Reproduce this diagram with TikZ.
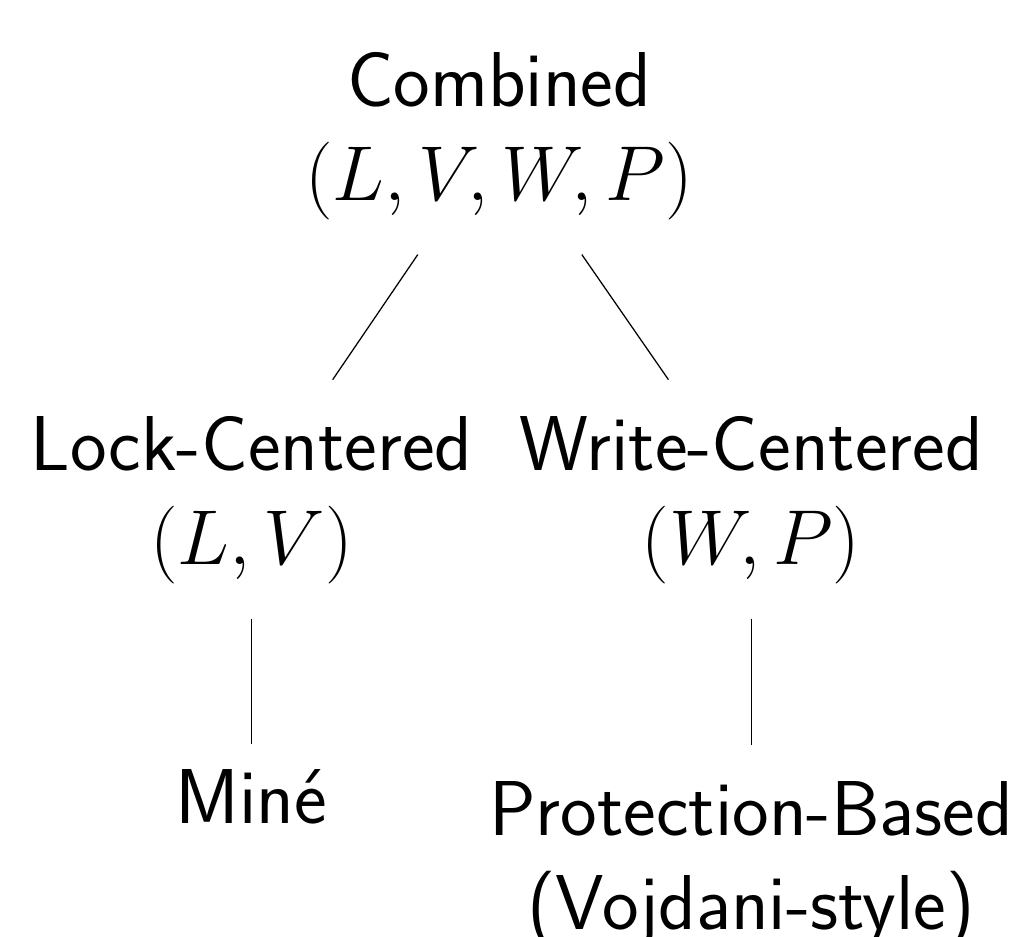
\documentclass[tikz,border=0pt]{standalone}
\tikzset{
  treebox/.style={inner sep=8pt, anchor=base, font=\Huge\sffamily},
  treeedge/.style={draw=black, line width=0.4pt}
}
\newcommand{\twolines}[2]{{\setlength{\tabcolsep}{0pt}\begin{tabular}[t]{c}#1\\#2\end{tabular}}}
\newcommand{\oneline}[1]{{\setlength{\tabcolsep}{0pt}\begin{tabular}[t]{c}#1\end{tabular}}}
\begin{document}
\begin{tikzpicture}
\useasboundingbox (0,0) rectangle (323.3pt,-299.6pt);
\node[treebox] (root) at (159.6pt,-34.2pt) {\twolines{Combined}{$(L,V,W,P)$}};
\node[treebox] (lc) at (80.4pt,-150.6pt) {\twolines{Lock-Centered}{$(L,V)$}};
\node[treebox] (wc) at (240.2pt,-150.6pt) {\twolines{Write-Centered}{$(W,P)$}};
\node[treebox, inner ysep=4pt] (mine) at (80.4pt,-263.2pt) {\oneline{Miné}};
\node[treebox] (prot) at (240.2pt,-267.3pt) {\twolines{Protection-Based}{(Vojdani-style)}};
\draw[treeedge] (root) -- (lc);
\draw[treeedge] (root) -- (wc);
\draw[treeedge] (lc) -- (mine);
\draw[treeedge] (wc) -- (prot);
\end{tikzpicture}
\end{document}
